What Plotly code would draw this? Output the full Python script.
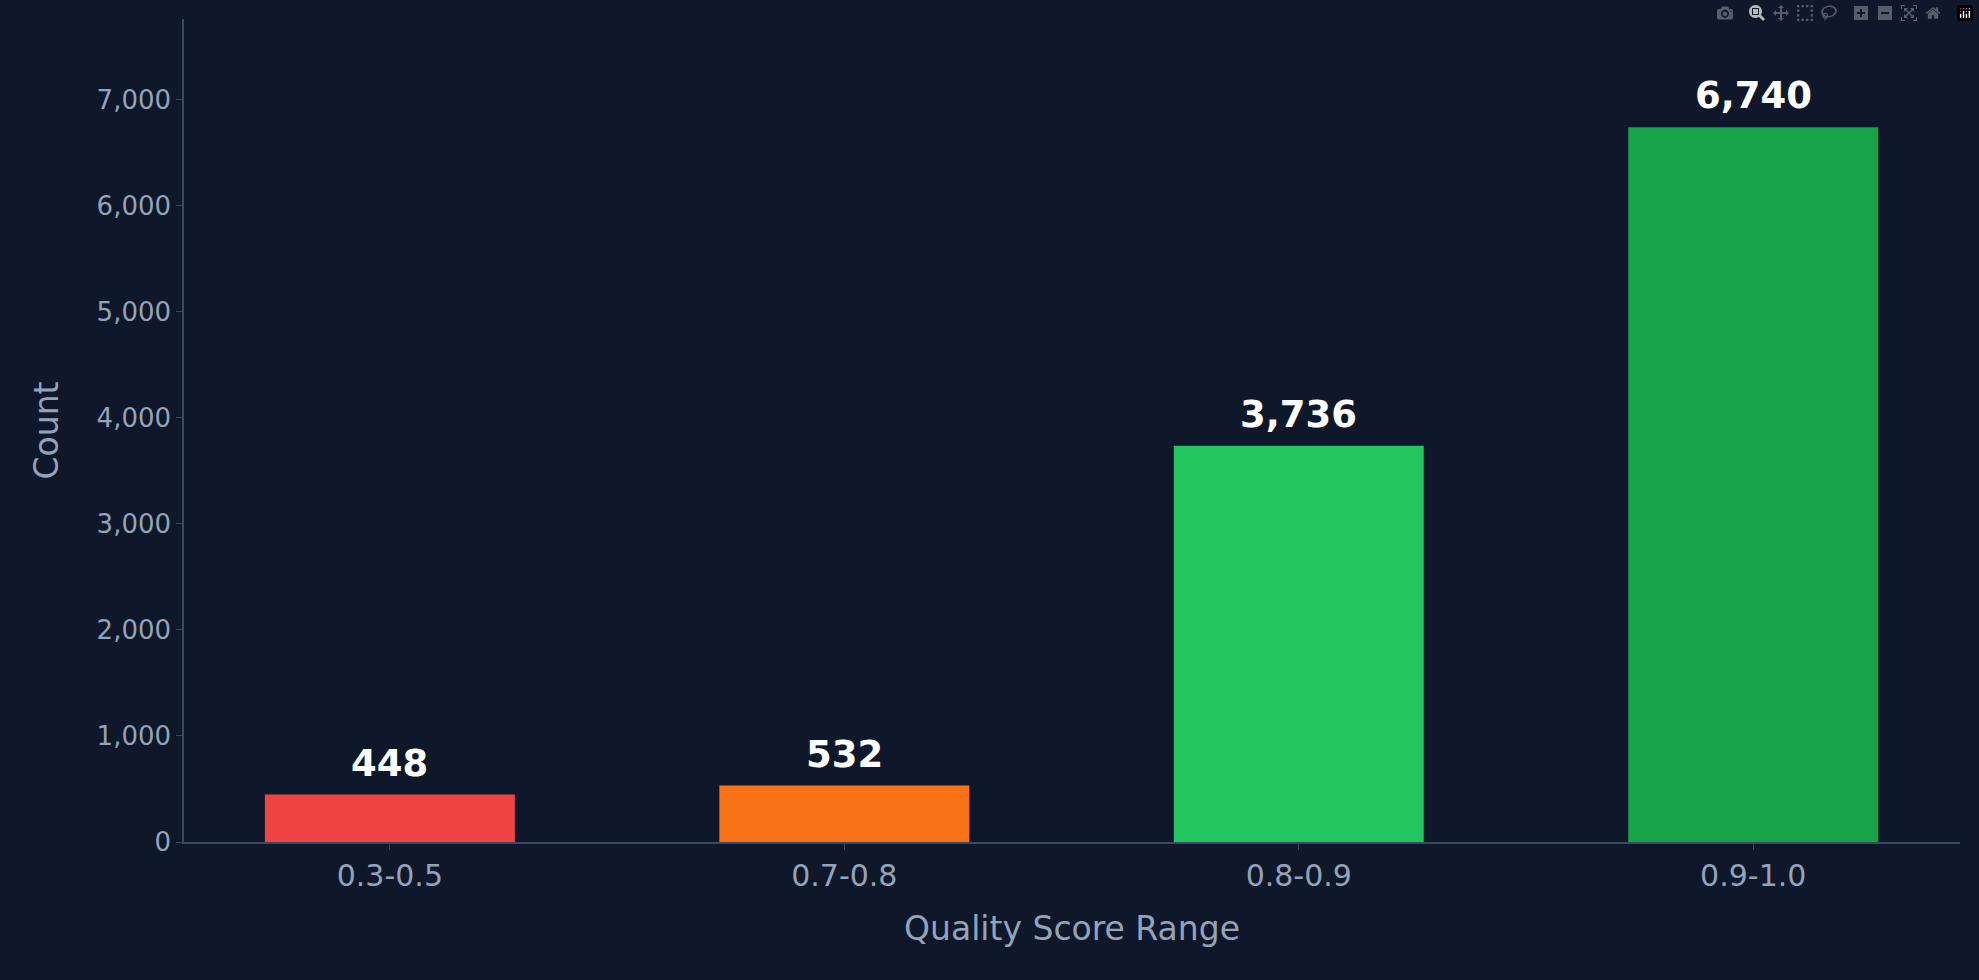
import plotly.graph_objects as go

categories = ["0.3-0.5", "0.7-0.8", "0.8-0.9", "0.9-1.0"]
counts = [448, 532, 3736, 6740]
colors = ["#ef4444", "#f97316", "#22c55e", "#16a34a"]
labels = [f"{v:,}" for v in counts]

fig = go.Figure(go.Bar(
    x=categories, y=counts, width=0.55, marker_color=colors, marker_line_width=0,
))
for c, v, t in zip(categories, counts, labels):
    fig.add_annotation(x=c, y=v, text=t, showarrow=False, yanchor="bottom", yshift=8,
                       font=dict(family="DejaVu Sans", size=37, color="white", weight="bold"))
ax = dict(showline=True, linecolor="#3b4a5e", linewidth=1.5, ticks="outside",
          tickcolor="#3b4a5e", ticklen=6, showgrid=False, zeroline=False)
fig.update_layout(
    width=1979, height=980, paper_bgcolor="#0f172a", plot_bgcolor="#0f172a",
    margin=dict(l=184, r=19, t=19, b=138), bargap=0.45,
    font=dict(family="DejaVu Sans", color="#94a3b8"),
    xaxis=dict(**ax, range=[-0.453, 3.455], tickfont=dict(size=30),
               title=dict(text="Quality Score Range", font=dict(size=33), standoff=25)),
    yaxis=dict(**ax, range=[0, 7762], tickformat=",", dtick=1000, tickfont=dict(size=26),
               title=dict(text="Count", font=dict(size=33), standoff=28)),
    showlegend=False,
)
fig.write_html("out.html", post_script="document.body.style.margin='0';document.body.style.background='#0f172a';")
